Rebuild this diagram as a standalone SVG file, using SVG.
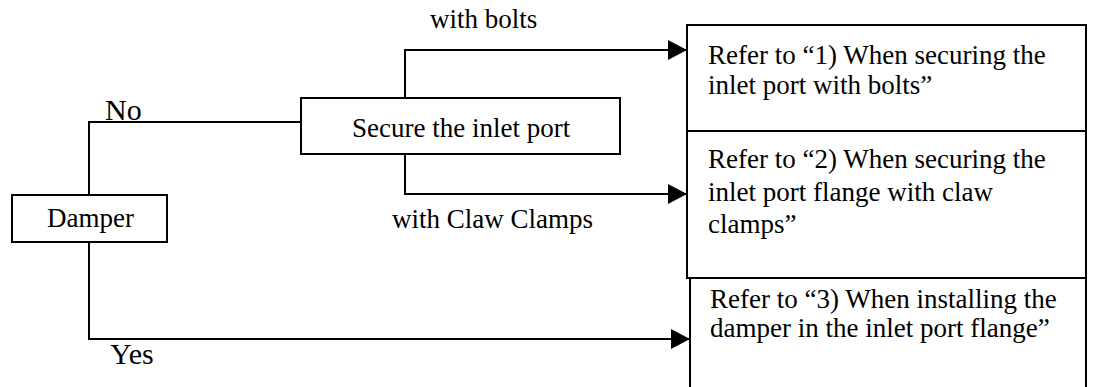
<svg xmlns="http://www.w3.org/2000/svg" width="1093" height="387" viewBox="0 0 1093 387">
<style>
.box{fill:#fff;stroke:#000;stroke-width:2}
.ln{fill:none;stroke:#000;stroke-width:2}
text{font-family:"Liberation Serif","Times New Roman",serif;font-size:27px;fill:#000}
.big{font-size:30px}
</style>
<defs>
<marker id="arr" markerUnits="userSpaceOnUse" markerWidth="20" markerHeight="20" viewBox="0 0 20 20" refX="19" refY="10" orient="auto">
<path d="M0,0 L19,10 L0,20 Z" fill="#000"/>
</marker>
</defs>
<rect width="1093" height="387" fill="#fff"/>
<g id="connectors">
<path class="ln" d="M89,195 V122 H301"/>
<path class="ln" d="M405,98 V50 H687" marker-end="url(#arr)"/>
<path class="ln" d="M405,154 V194 H687" marker-end="url(#arr)"/>
<path class="ln" d="M89,242 V339 H690" marker-end="url(#arr)"/>
<text class="big" x="105" y="120">No</text>
<text class="big" x="110" y="364">Yes</text>
<text x="430" y="28">with bolts</text>
<text x="392" y="228">with Claw Clamps</text>
</g>
<g id="damper">
<rect class="box" x="12" y="195" width="155" height="47"/>
<text x="47" y="227">Damper</text>
</g>
<g id="secure">
<rect class="box" x="301" y="98" width="319" height="56"/>
<text x="352" y="137">Secure the inlet port</text>
</g>
<g id="ref1">
<rect class="box" x="687" y="25" width="399" height="106"/>
<text x="708" y="64">Refer to “1) When securing the</text>
<text x="708" y="94">inlet port with bolts”</text>
</g>
<g id="ref2">
<rect class="box" x="687" y="131" width="399" height="147"/>
<text x="708" y="168">Refer to “2) When securing the</text>
<text x="708" y="201">inlet port flange with claw</text>
<text x="708" y="233">clamps”</text>
</g>
<g id="ref3">
<rect class="box" x="690" y="278" width="396" height="115"/>
<text x="710" y="308">Refer to “3) When installing the</text>
<text x="710" y="337">damper in the inlet port flange”</text>
</g>
</svg>
